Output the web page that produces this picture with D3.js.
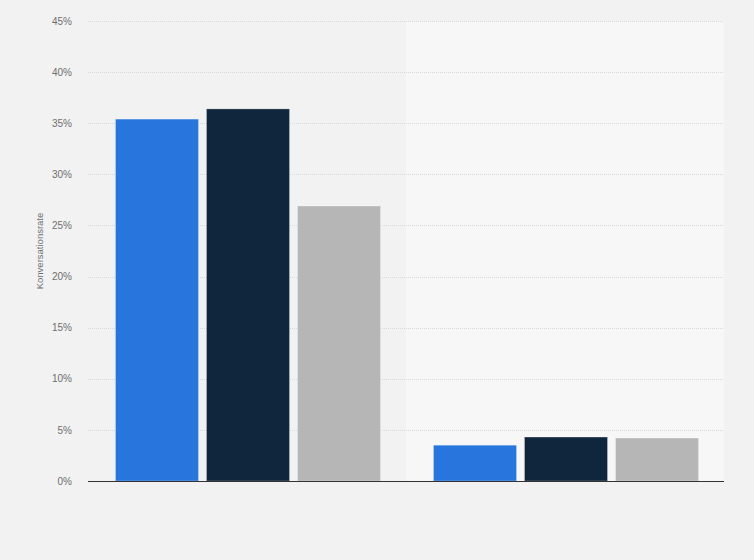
<!DOCTYPE html>
<html lang="de">

<head>
    <meta charset="utf-8" />
    <title>Konversationsrate</title>
    <script src="https://d3js.org/d3.v7.min.js"></script>
    <style>
        body {
            margin: 0;
            background: #f2f2f2;
            font-family: "Liberation Sans", Arial, sans-serif;
        }

        .axis text {
            font-size: 10px;
            fill: #6f6f6f;
        }

        .grid line {
            stroke: #d9d9d9;
            stroke-dasharray: 1, 1;
        }
    </style>
</head>

<body>
    <script>
        // Data
        const categories = ["Gruppe A", "Gruppe B"];
        const series = ["Serie 1", "Serie 2", "Serie 3"];
        const values = [
            [35.4, 36.4, 26.9],
            [3.5, 4.3, 4.2]
        ];
        const yTicks = [0, 5, 10, 15, 20, 25, 30, 35, 40, 45];
        const colors = ["#2876dd", "#10263c", "#b6b6b6"];

        const margin = { top: 21, bottom: 79, left: 88, right: 30 };
        const width = 754 - margin.left - margin.right;
        const height = 560 - margin.top - margin.bottom;

        const svg = d3.select("body").append("svg")
            .attr("width", 754)
            .attr("height", 560);

        const g = svg.append("g").attr("transform", `translate(${margin.left},${margin.top})`);

        // Scales
        const x0 = d3.scaleBand().domain(categories).range([0, width]);
        const x1 = d3.scaleBand().domain(series)
            .range([27.5, x0.bandwidth() - 25.5])
            .paddingInner(0.088);
        const y = d3.scaleLinear().domain([0, 45]).range([height, 0]);

        // alternating band backgrounds
        g.selectAll("rect.band")
            .data(categories)
            .join("rect")
            .attr("class", "band")
            .attr("x", (d) => x0(d))
            .attr("y", 0)
            .attr("width", x0.bandwidth())
            .attr("height", height)
            .attr("fill", (d, i) => (i % 2 ? "#f7f7f7" : "#f2f2f2"));

        // gridlines
        g.append("g")
            .attr("class", "grid")
            .selectAll("line")
            .data(yTicks.filter((d) => d > 0))
            .join("line")
            .attr("x1", 0)
            .attr("x2", width)
            .attr("y1", (d) => Math.round(y(d)) + 0.5)
            .attr("y2", (d) => Math.round(y(d)) + 0.5);

        // y axis
        const yaxis = d3.axisLeft(y).tickValues(yTicks).tickSize(0).tickPadding(16)
            .tickFormat((d) => d + "%");
        g.append("g").attr("class", "y axis")
            .call(yaxis)
            .call((s) => s.select(".domain").remove());

        // bars
        const groups = g.selectAll("g.cat")
            .data(categories)
            .join("g")
            .attr("class", "cat")
            .attr("transform", (d) => `translate(${x0(d)},0)`);

        groups.selectAll("rect")
            .data((d, i) => values[i].map((v, j) => ({ s: series[j], v: v, c: colors[j] })))
            .join("rect")
            .attr("x", (d) => x1(d.s))
            .attr("y", (d) => y(d.v))
            .attr("width", x1.bandwidth())
            .attr("height", (d) => height - y(d.v))
            .attr("fill", (d) => d.c)
            .attr("stroke", "rgba(255,255,255,0.25)")
            .attr("stroke-width", 1);

        // baseline
        g.append("line")
            .attr("x1", 0)
            .attr("x2", width)
            .attr("y1", height + 0.5)
            .attr("y2", height + 0.5)
            .attr("stroke", "#333")
            .attr("stroke-width", 1.2);

        // y axis title
        svg.append("text")
            .attr("transform", `translate(43,${margin.top + height / 2}) rotate(-90)`)
            .attr("text-anchor", "middle")
            .attr("font-size", "9.5px")
            .attr("fill", "#6f6f6f")
            .text("Konversationsrate");
    </script>
</body>

</html>
